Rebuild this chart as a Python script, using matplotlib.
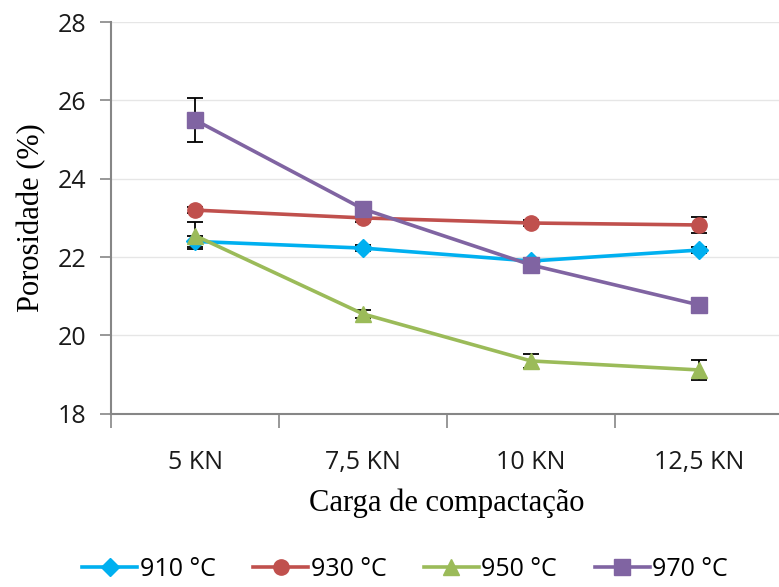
import numpy as np
from matplotlib import pyplot as plt

cargas = ['5 KN', '7,5 KN', '10 KN', '12,5 KN']
series = ['910 °C', '930 °C', '950 °C', '970 °C']
p910 = [22.40, 22.23, 21.90, 22.18]
p930 = [23.20, 23.00, 22.87, 22.82]
p950 = [22.55, 20.55, 19.35, 19.12]
p970 = [25.50, 23.23, 21.80, 20.78]
e910 = [0.15, 0.08, 0.08, 0.08]
e930 = [0.08, 0.1, 0.08, 0.2]
e950 = [0.35, 0.1, 0.18, 0.25]
e970 = [0.55, 0.15, 0.12, 0.1]

cores = ['#00B0F0', '#C0504D', '#9BBB59', '#8064A2']
marcadores = ['D', 'o', '^', 's']

fig = plt.figure(figsize=(7.79, 5.87), dpi=100)
ax = fig.add_axes([0.1425, 0.295, 0.8626, 0.6675])

x = np.arange(len(cargas))
for nome, y, e, c, m in zip(series, [p910, p930, p950, p970],
                            [e910, e930, e950, e970], cores, marcadores):
    ax.errorbar(x, y, yerr=e, fmt='none', ecolor='black', elinewidth=1.3,
                capsize=6, capthick=1.3, zorder=2)
    ax.plot(x, y, color=c, marker=m, markersize=11 if m != 'D' else 9,
            linewidth=2.6, label=nome, zorder=3)

ax.set_xlim(-0.5, 3.5)
ax.set_ylim(18, 28)
ax.set_yticks(np.arange(18, 29, 2))
ax.set_xticks(x)
ax.set_xticklabels(cargas)
ax.set_xticks(np.arange(-0.5, 3.6, 1), minor=True)
ax.tick_params(axis='x', which='major', length=0, pad=26)
ax.tick_params(axis='x', which='minor', length=10, width=1.2, color='#868686', direction='out')
ax.tick_params(axis='y', length=8, width=1.2, color='#868686', direction='out', pad=10)
for lab in ax.get_xticklabels() + ax.get_yticklabels():
    lab.set_fontfamily('Open Sans')
    lab.set_fontsize(18)
    lab.set_color('#1a1a1a')

ax.grid(axis='y', color='#e6e6e6', linewidth=1)
ax.set_axisbelow(True)
for s in ['top', 'right']:
    ax.spines[s].set_visible(False)
for s in ['left', 'bottom']:
    ax.spines[s].set_color('#868686')
    ax.spines[s].set_linewidth(1.5)

ax.set_ylabel('Porosidade (%)', fontfamily='Liberation Serif', fontsize=22, labelpad=8)
ax.set_xlabel('Carga de compactação', fontfamily='Liberation Serif', fontsize=22, labelpad=10)

fig.legend(loc='lower center', bbox_to_anchor=(0.52, -0.03), ncol=4, frameon=False,
           prop={'family': 'Open Sans', 'size': 18}, handlelength=2.2,
           handletextpad=0.1, columnspacing=1.5)

fig.savefig('out.png', dpi=100)
